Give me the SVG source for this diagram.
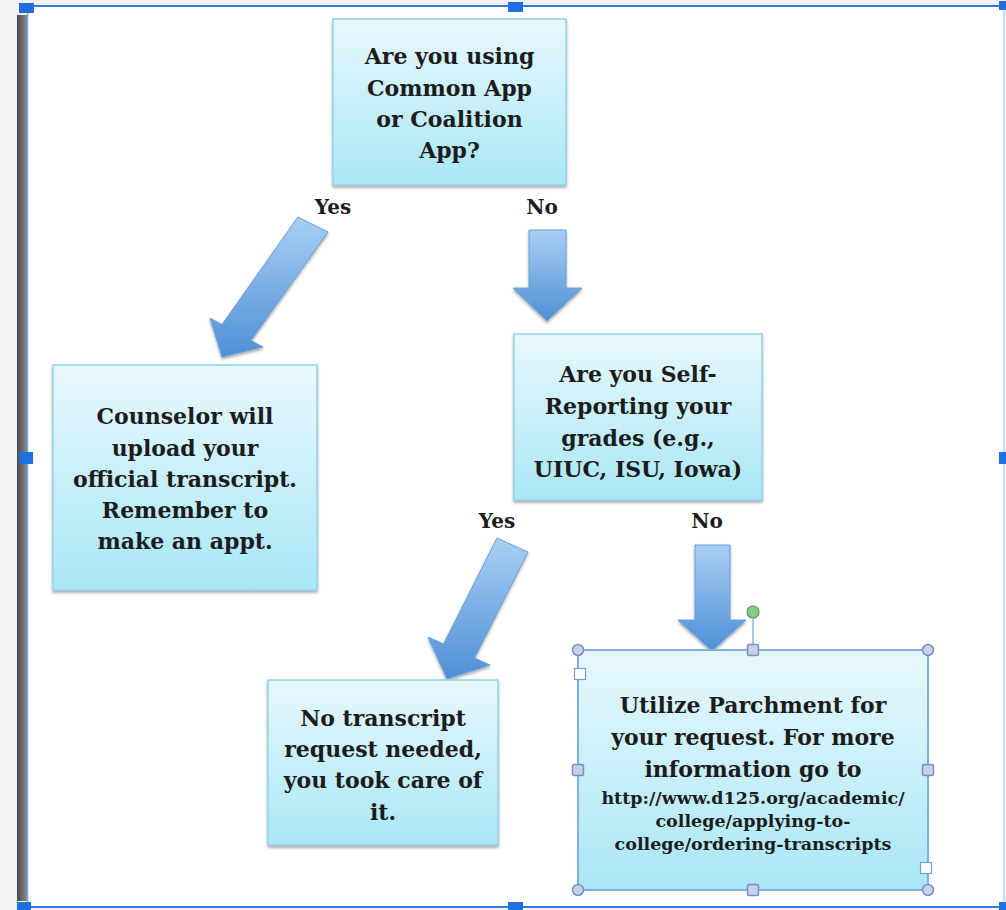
<svg xmlns="http://www.w3.org/2000/svg" width="1006" height="910" viewBox="0 0 1006 910">
<defs>
<linearGradient id="boxg" x1="0" y1="0" x2="0" y2="1">
<stop offset="0" stop-color="#e8f8fd"/>
<stop offset="1" stop-color="#a9e7f6"/>
</linearGradient>
<linearGradient id="arrg" x1="0" y1="0" x2="0" y2="1">
<stop offset="0" stop-color="#a9cff4"/>
<stop offset="1" stop-color="#4e8fd6"/>
</linearGradient>
<linearGradient id="barg" x1="0" y1="0" x2="1" y2="0">
<stop offset="0" stop-color="#4a4a4a"/>
<stop offset="1" stop-color="#8a8a8a"/>
</linearGradient>
<filter id="sh" x="-10%" y="-10%" width="120%" height="125%">
<feDropShadow dx="0" dy="2" stdDeviation="1.5" flood-color="#000" flood-opacity="0.35"/>
</filter>
</defs>
<style>
.box{fill:url(#boxg);stroke:#93d4e4;stroke-width:1.5;filter:url(#sh)}
.sel{fill:url(#boxg);stroke:#7fb0e4;stroke-width:2}
.arr{fill:url(#arrg);stroke:#6a9fd8;stroke-width:1;filter:url(#sh)}
.t{font-family:"DejaVu Serif","Liberation Serif",serif;font-weight:bold;font-size:22px;fill:#1c1c1c;text-anchor:middle}
.lbl{font-family:"DejaVu Serif","Liberation Serif",serif;font-weight:bold;font-size:20px;fill:#1c1c1c;text-anchor:middle}
.url{font-family:"DejaVu Serif","Liberation Serif",serif;font-weight:bold;font-size:17.5px;fill:#1c1c1c;text-anchor:middle}
.hc{fill:#c6d0e6;stroke:#7b8fc2;stroke-width:1.5}
.hw{fill:#ffffff;stroke:#6fa2dc;stroke-width:1.2}
.hb{fill:#1f6fe0}
</style>
<rect x="0" y="0" width="1006" height="910" fill="#f3f3f3"/>
<rect x="27" y="6" width="977" height="901" fill="#ffffff"/>
<rect x="17" y="15" width="10" height="886" fill="url(#barg)"/>
<g id="frame" fill="none">
<line x1="27" y1="6" x2="1004" y2="6" stroke="#2f7ae5" stroke-width="2"/>
<line x1="27" y1="907" x2="1004" y2="907" stroke="#2f7ae5" stroke-width="2"/>
<line x1="27.5" y1="6" x2="27.5" y2="907" stroke="#6fa6ef" stroke-width="1.5"/>
<line x1="1004" y1="6" x2="1004" y2="907" stroke="#9fc2f2" stroke-width="1"/>
<rect class="hb" x="19" y="3" width="15" height="10"/>
<rect class="hb" x="508" y="2" width="15" height="10"/>
<rect class="hb" x="999" y="1" width="7" height="9"/>
<rect class="hb" x="19" y="452" width="14" height="12"/>
<rect class="hb" x="999" y="452" width="7" height="12"/>
<rect class="hb" x="17" y="902" width="14" height="8"/>
<rect class="hb" x="508" y="902" width="15" height="8"/>
<rect class="hb" x="999" y="902" width="7" height="8"/>
</g>
<g id="connectors">
<path class="arr" d="M298,217 L328,232 L251,340.4 L263,347 L222,357 L210,318 L222,324.6 Z"/>
<path class="arr" d="M529,230 L566,230 L566,288 L582,288 L547,321 L513,288 L529,288 Z"/>
<path class="arr" d="M497,538 L528,552 L474.5,658 L490,665 L447,679 L428,637 L443.5,644 Z"/>
<path class="arr" d="M695,545 L730,545 L730,620 L746,620 L712,651 L678,620 L695,620 Z"/>
<text class="lbl" x="333" y="214">Yes</text>
<text class="lbl" x="542" y="214">No</text>
<text class="lbl" x="497" y="528">Yes</text>
<text class="lbl" x="707" y="528">No</text>
</g>
<g id="node-q1">
<rect class="box" x="333" y="19" width="233" height="166"/>
<text class="t" x="449.5" y="64">Are you using</text>
<text class="t" x="449.5" y="96">Common App</text>
<text class="t" x="449.5" y="127">or Coalition</text>
<text class="t" x="449.5" y="158">App?</text>
</g>
<g id="node-counselor">
<rect class="box" x="53" y="365" width="264" height="225"/>
<text class="t" x="185" y="424">Counselor will</text>
<text class="t" x="185" y="456">upload your</text>
<text class="t" x="185" y="487">official transcript.</text>
<text class="t" x="185" y="518">Remember to</text>
<text class="t" x="185" y="549">make an appt.</text>
</g>
<g id="node-q2">
<rect class="box" x="514" y="334" width="248" height="166"/>
<text class="t" x="638" y="382">Are you Self-</text>
<text class="t" x="638" y="414">Reporting your</text>
<text class="t" x="638" y="446">grades (e.g.,</text>
<text class="t" x="638" y="477">UIUC, ISU, Iowa)</text>
</g>
<g id="node-none">
<rect class="box" x="268" y="680" width="230" height="165"/>
<text class="t" x="383" y="726">No transcript</text>
<text class="t" x="383" y="757">request needed,</text>
<text class="t" x="383" y="788">you took care of</text>
<text class="t" x="383" y="820">it.</text>
</g>
<g id="node-parchment">
<rect class="sel" x="578" y="650" width="350" height="240"/>
<text class="t" x="753" y="713">Utilize Parchment for</text>
<text class="t" x="753" y="745">your request. For more</text>
<text class="t" x="753" y="777">information go to</text>
<text class="url" x="753" y="804">http://www.d125.org/academic/</text>
<text class="url" x="753" y="827">college/applying-to-</text>
<text class="url" x="753" y="850">college/ordering-transcripts</text>
<line x1="753" y1="618" x2="753" y2="645" stroke="#6fa2dc" stroke-width="1.2"/>
<circle cx="753" cy="612" r="6" fill="#86c98a" stroke="#4f9d55" stroke-width="1.2"/>
<circle class="hc" cx="578" cy="650" r="5.5"/>
<circle class="hc" cx="928" cy="650" r="5.5"/>
<circle class="hc" cx="578" cy="890" r="5.5"/>
<circle class="hc" cx="928" cy="890" r="5.5"/>
<rect class="hc" x="747.5" y="644.5" width="11" height="11" rx="2"/>
<rect class="hc" x="747.5" y="884.5" width="11" height="11" rx="2"/>
<rect class="hc" x="572.5" y="764.5" width="11" height="11" rx="2"/>
<rect class="hc" x="922.5" y="764.5" width="11" height="11" rx="2"/>
<rect class="hw" x="574.5" y="668.5" width="11" height="11"/>
<rect class="hw" x="920.5" y="862.5" width="11" height="11"/>
</g>
</svg>
